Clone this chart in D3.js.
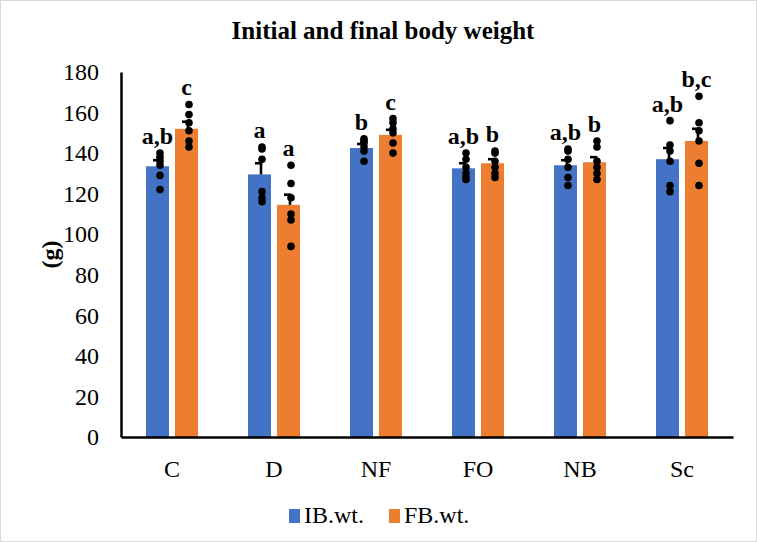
<!DOCTYPE html>
<html><head><meta charset="utf-8">
<script src="https://cdn.jsdelivr.net/npm/d3@7"></script>
<style>
html,body{margin:0;padding:0;background:#fff;}
svg{display:block;}
</style></head>
<body>
<svg id="chart" width="757" height="542"></svg>
<script>
const categories = ["C","D","NF","FO","NB","Sc"];
const seriesNames = ["IB.wt.","FB.wt."];
const ibMeans = [133.5, 129.5, 142.5, 132.5, 134, 137];
const fbMeans = [152, 114.5, 149, 135, 135.5, 146];
const ibErr = [3, 5.5, 2, 2.5, 2.5, 5.5];
const fbErr = [3.5, 5, 2.5, 2, 2.5, 6];
const ibPoints = [
  [140, 138, 136, 134, 129, 122],
  [143, 142, 137, 121, 118, 116],
  [147, 146, 145, 143, 141, 136],
  [140, 137, 133, 130, 128, 127],
  [142, 141, 137, 133, 128, 124],
  [156, 144, 141, 136, 124, 121]
];
const fbPoints = [
  [164, 159, 155, 151, 146, 143],
  [134, 125, 118, 110, 107, 94],
  [157, 155, 152, 150, 145, 140],
  [141, 140, 136, 133, 130, 128],
  [146, 143, 136, 133, 130, 127],
  [168, 155, 151, 146, 135, 124]
];
const ibLetters = ["a,b","a","b","a,b","a,b","a,b"];
const fbLetters = ["c","a","c","b","b","b,c"];
const yTicks = [0,20,40,60,80,100,120,140,160,180];
const colors = ["#4472c4","#ed7d31"];

const FONT = '"Liberation Serif", "Times New Roman", Times, "DejaVu Serif", serif';
const svg = d3.select("#chart");
const W = 757, H = 542;
svg.append("rect").attr("x",0.5).attr("y",0.5).attr("width",W-1).attr("height",H-1)
  .attr("fill","#fff").attr("stroke","#d9d9d9").attr("stroke-width",1);

const plot = {left:121, right:733, top:72, bottom:437};
const x = d3.scaleBand().domain(categories).range([plot.left, plot.right]);
const xs = d3.scaleBand().domain(seriesNames).range([0, x.bandwidth()]).paddingInner(0.207).paddingOuter(0.862);
const y = d3.scaleLinear().domain([0,180]).range([plot.bottom, plot.top]);

svg.append("text").attr("x",383).attr("y",39).attr("text-anchor","middle")
  .style("font-family",FONT).style("font-size","25px").style("font-weight","bold")
  .text("Initial and final body weight");

const series = [
  {name: seriesNames[0], means: ibMeans, err: ibErr, pts: ibPoints, letters: ibLetters, color: colors[0]},
  {name: seriesNames[1], means: fbMeans, err: fbErr, pts: fbPoints, letters: fbLetters, color: colors[1]}
];
series.forEach(s => {
  const g = svg.append("g");
  categories.forEach((c,i) => {
    const bx = x(c) + xs(s.name);
    const bw = xs.bandwidth();
    g.append("rect").attr("x",bx).attr("y",y(s.means[i])).attr("width",bw)
      .attr("height",y(0)-y(s.means[i])).attr("fill",s.color);
    const cx = bx + bw/2;
    const ex = cx + 1.5;
    g.append("line").attr("x1",ex).attr("x2",ex).attr("y1",y(s.means[i])).attr("y2",y(s.means[i]+s.err[i]))
      .attr("stroke","#000").attr("stroke-width",2.6);
    g.append("line").attr("x1",ex-6).attr("x2",ex+1.3).attr("y1",y(s.means[i]+s.err[i])).attr("y2",y(s.means[i]+s.err[i]))
      .attr("stroke","#000").attr("stroke-width",2.6);
    s.pts[i].forEach(v => {
      g.append("circle").attr("cx",cx+2.5).attr("cy",y(v)).attr("r",3.8).attr("fill","#000");
    });
    const top = Math.max(d3.max(s.pts[i]), s.means[i]+s.err[i]);
    g.append("text").attr("x",cx).attr("y",y(top)-9).attr("text-anchor","middle")
      .style("font-family",FONT).style("font-size","24px").style("font-weight","bold")
      .text(s.letters[i]);
  });
});

const yAxis = d3.axisLeft(y).tickValues(yTicks).tickSize(0).tickPadding(22);
const ya = svg.append("g").attr("transform",`translate(${plot.left},0)`).call(yAxis);
ya.select(".domain").attr("stroke","#000").attr("stroke-width",2.5);
ya.selectAll("text").style("font-family",FONT).style("font-size","24px").attr("fill","#000");

const xAxis = d3.axisBottom(x).tickSize(0).tickPadding(23);
const xa = svg.append("g").attr("transform",`translate(0,${plot.bottom})`).call(xAxis);
xa.select(".domain").attr("stroke","#000").attr("stroke-width",2.5);
xa.selectAll("text").style("font-family",FONT).style("font-size","24px").attr("fill","#000");

svg.append("text").attr("transform",`translate(50,${(plot.top+plot.bottom)/2}) rotate(-90)`)
  .attr("text-anchor","middle").attr("dy","0.35em")
  .style("font-family",FONT).style("font-size","24px").style("font-weight","bold").text("(g)");

const legend = svg.append("g");
const items = [{n:seriesNames[0],c:colors[0],x:289},{n:seriesNames[1],c:colors[1],x:389}];
items.forEach(it => {
  legend.append("rect").attr("x",it.x).attr("y",509).attr("width",11).attr("height",14).attr("fill",it.c);
  legend.append("text").attr("x",it.x+15).attr("y",523)
    .style("font-family",FONT).style("font-size","24px").text(it.n);
});
</script>
</body></html>
